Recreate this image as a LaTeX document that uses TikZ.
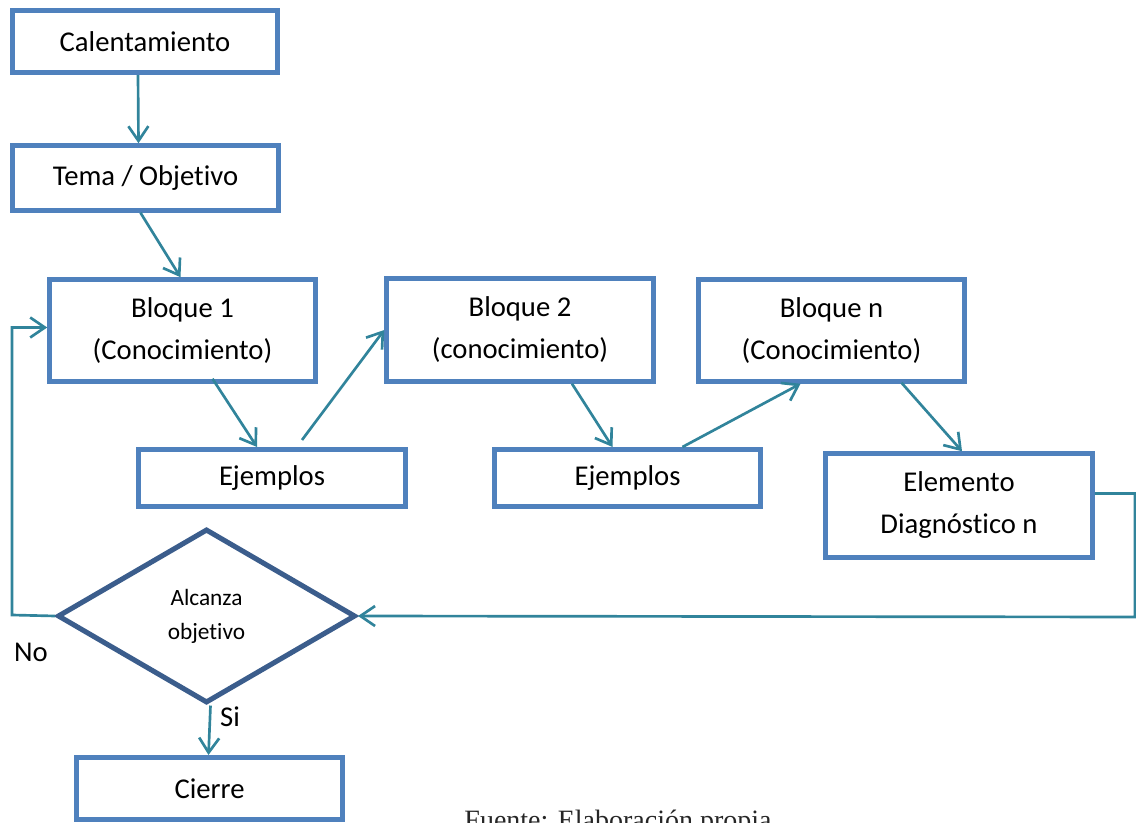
\documentclass[tikz,border=0pt]{standalone}
\usepackage{fontspec}
\setmainfont{Carlito}[Ligatures={NoCommon}]
\newfontfamily\fuentefont{Liberation Serif}
\usetikzlibrary{arrows.meta,shapes.geometric,calc}
\definecolor{boxblue}{HTML}{4F81BD}
\definecolor{diablue}{HTML}{3B5D8C}
\definecolor{conn}{HTML}{31849B}
\begin{document}
\begin{tikzpicture}[x=0.75pt,y=-0.75pt,
  box/.style={draw=boxblue, line width=3.4pt, fill=white, inner sep=0pt, align=center,
    font=\fontsize{21.5}{31.5}\selectfont},
  sz/.style 2 args={minimum width=#1*0.75pt, minimum height=#2*0.75pt},
  dec/.style={diamond, draw=diablue, line width=3.8pt, fill=white, inner sep=0pt, align=center,
    font=\fontsize{17.5}{25.5}\selectfont},
  conline/.style={draw=conn, line width=2pt},
  conarrow/.style={conline, -{Straight Barb[length=11pt,width=15pt,line width=2pt]}},
  lbl/.style={font=\fontsize{21.5}{25}\selectfont, inner sep=0pt}]
\useasboundingbox (0,0) rectangle (1136,823);
% boxes
\node[box, sz={265.5}{62.5}] (cal) at (145,41.5) {Calentamiento};
\node[box, sz={266}{65}] (tema) at (145.5,178) {Tema / Objetivo};
\node[box, sz={266}{102}] (b1) at (182.5,330.5) {Bloque 1\\(Conocimiento)};
\node[box, sz={267}{57.5}] (ej1) at (272,478) {Ejemplos};
\node[box, sz={267}{103}] (b2) at (520,330) {Bloque 2\\(conocimiento)};
\node[box, sz={266}{57.5}] (ej2) at (627.5,478) {Ejemplos};
\node[box, sz={266}{102}] (bn) at (831.5,330.5) {Bloque n\\(Conocimiento)};
\node[box, sz={267}{104}] (el) at (959,505.5) {Elemento\\Diagnóstico n};
\node[box, sz={266.5}{62.5}] (cierre) at (209.5,788.5) {Cierre};
\node[dec, minimum width=298*0.75pt, minimum height=174*0.75pt] (dia) at (206.5,616) {Alcanza\\objetivo};
% labels
\node[lbl] (no) at (31,652) {No};
\node[lbl] (si) at (230,717) {Si};
\node[font=\fuentefont\fontsize{21}{25}\selectfont, anchor=base, text=black!85, inner sep=0pt] (fuente) at (618,829) {Fuente: Elaboración propia};
% connectors
\draw[conarrow] ($(cal.south)+(-7,0)$) -- ($(tema.north)+(-7,0)$);
\draw[conarrow] ($(tema.south)+(-5,0)$) -- ($(b1.north)+(-2,0)$);
\draw[conarrow] ($(b1.south)+(30,-5)$) -- ($(ej1.north)+(-15,0)$);
\draw[conarrow] ($(ej1.north)+(30,-7)$) -- (b2.west);
\draw[conarrow] ($(b2.south)+(52,0)$) -- ($(ej2.north)+(-15,0)$);
\draw[conarrow] ($(ej2.north)+(55,0)$) -- ($(bn.south)+(-31,0)$);
\draw[conarrow] ($(bn.south)+(70,-1)$) -- ($(el.north)+(3,0)$);
\coordinate (rc) at (1135,617);
\draw[conarrow] ($(el.east)+(0,-12)$) -| (rc) -- (dia.east);
\coordinate (lc) at (12,615);
\draw[conarrow] (dia.west) -- (lc) |- ($(b1.west)+(0,-3)$);
\draw[conarrow] ($(dia.south)+(4,0)$) -- ($(cierre.north)+(-1,0)$);
\end{tikzpicture}
\end{document}
